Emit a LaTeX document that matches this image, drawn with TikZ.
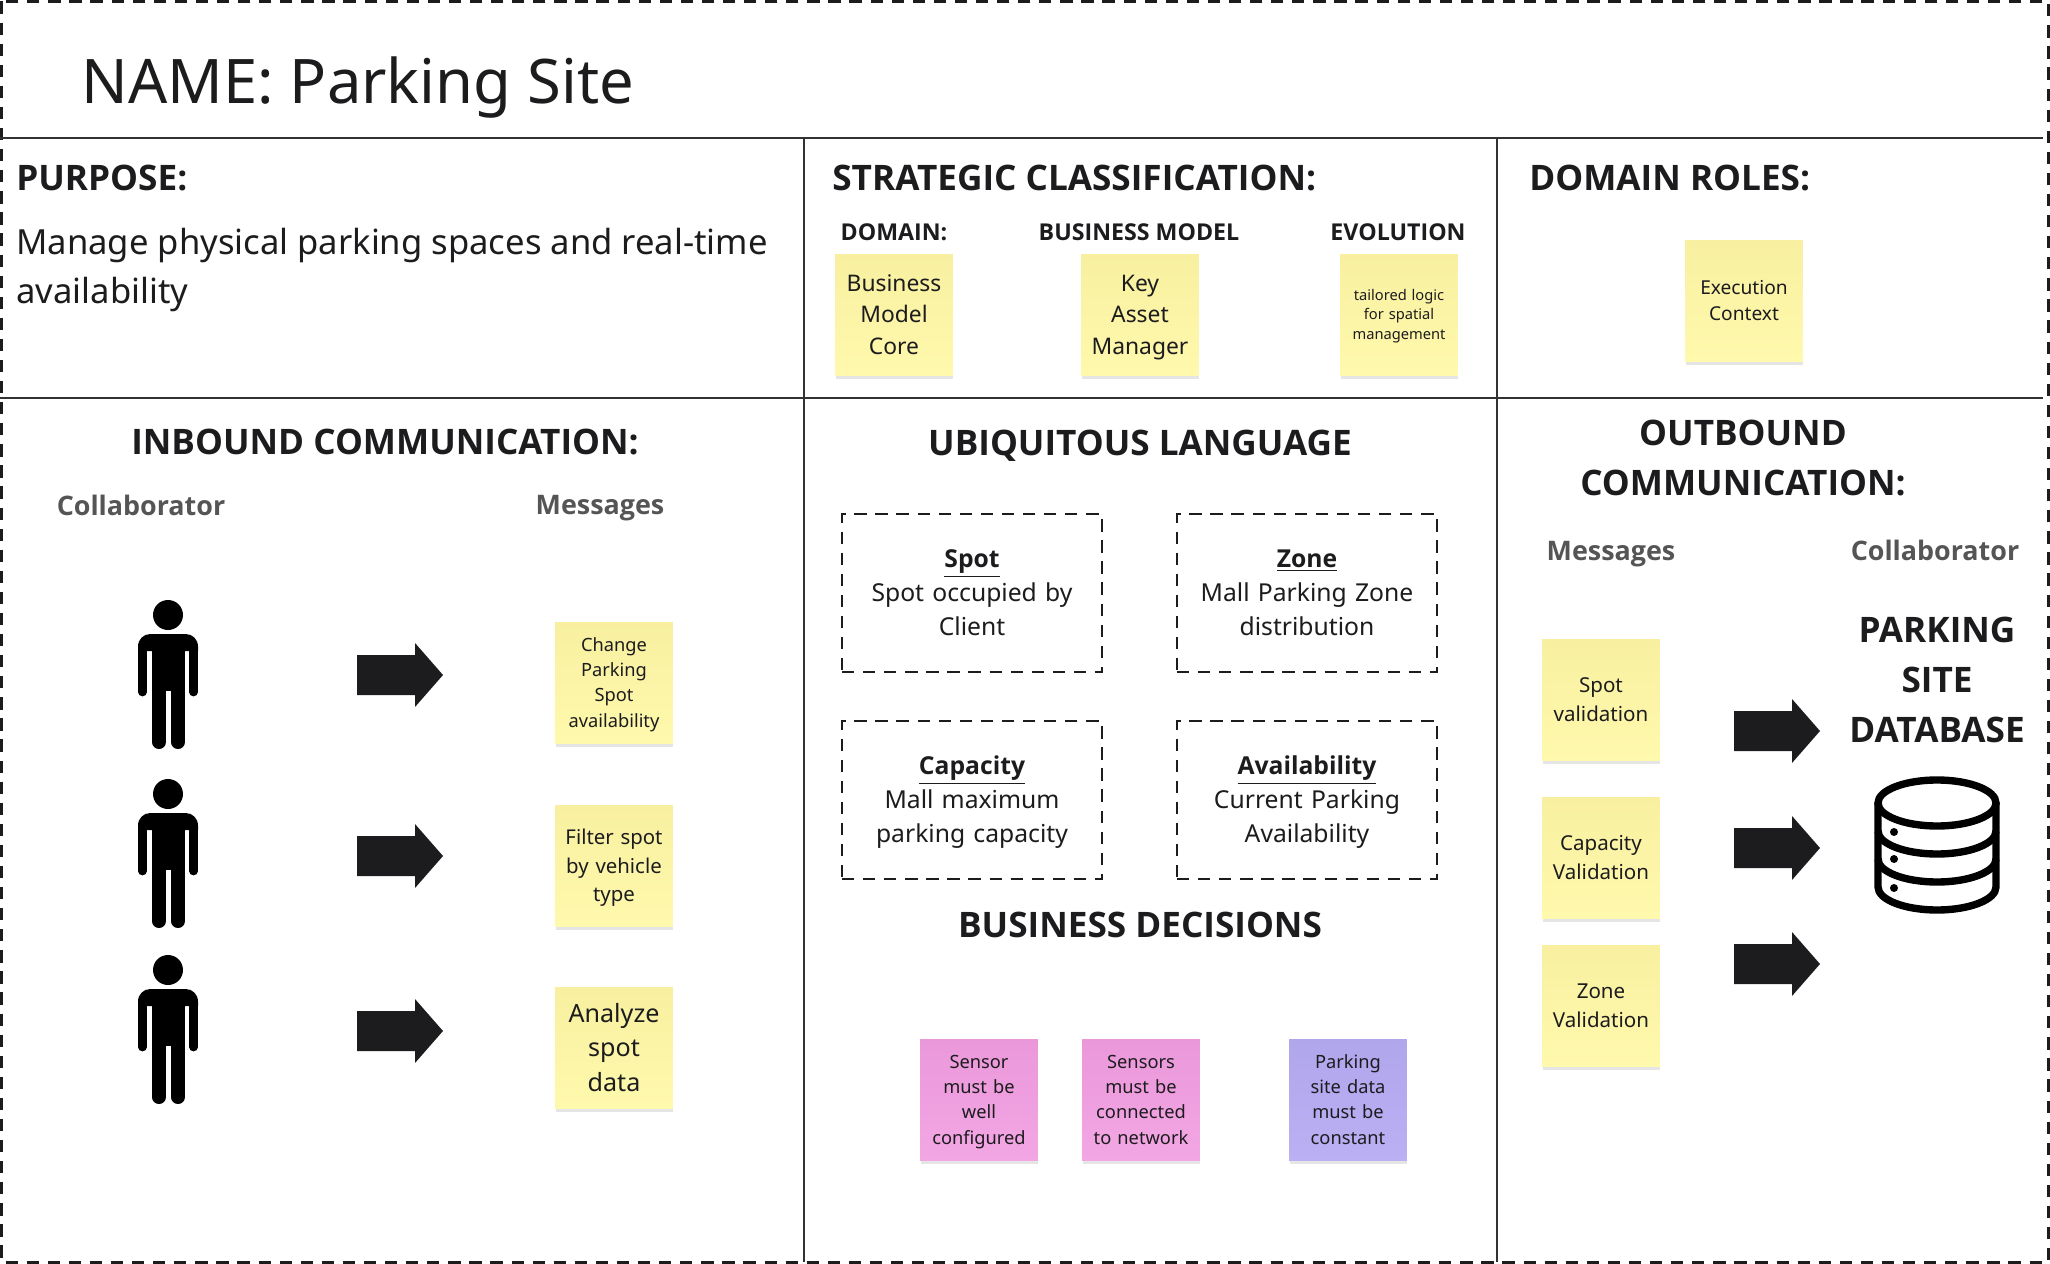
\documentclass[tikz,border=0pt]{standalone}
\usepackage{fontspec}
\setmainfont{Noto Sans}[BoldFont={Open Sans Bold}]
\usepackage{tikz}
\usetikzlibrary{positioning,shadows}
\definecolor{inkblack}{RGB}{28,28,30}
\definecolor{labelgray}{RGB}{85,85,85}
\definecolor{linegray}{RGB}{50,50,52}
\definecolor{noteyellowtop}{RGB}{248,240,160}
\definecolor{noteyellowbot}{RGB}{255,249,173}
\definecolor{notepinktop}{RGB}{234,152,218}
\definecolor{notepinkbot}{RGB}{243,166,228}
\definecolor{notepurpletop}{RGB}{176,166,236}
\definecolor{notepurplebot}{RGB}{188,176,244}
\newcommand{\fsize}[1]{\fontsize{#1}{1.38\dimexpr #1pt\relax}\selectfont}
\tikzset{
    % sticky notes
    stickynote/.style={
        minimum width=66.9pt,
        minimum height=69pt,
        inner sep=0pt,
        align=center,
        text width=66pt,
        text=inkblack,
        execute at begin node={\rule{0pt}{.8\baselineskip}},
        execute at end node=\strut,
        drop shadow={shadow xshift=0.4pt,shadow yshift=-2pt,opacity=0.2}
    },
    yellownote/.style={stickynote,top color=noteyellowtop,bottom color=noteyellowbot},
    pinknote/.style={stickynote,top color=notepinktop,bottom color=notepinkbot},
    purplenote/.style={stickynote,top color=notepurpletop,bottom color=notepurplebot},
    % texts
    headlabel/.style={text=inkblack,align=center,inner sep=0pt,font=\bfseries\fsize{20}},
    subhead/.style={text=inkblack,inner sep=0pt,font=\bfseries\fsize{13.2}},
    graylabel/.style={text=labelgray,inner sep=0pt,font=\bfseries\fsize{15.3}},
    bodytext/.style={text=inkblack,inner sep=0pt,align=left,font=\fsize{19.7}},
    termbox/.style={
        draw=inkblack,
        dash pattern=on 7pt off 5pt,
        line width=1.4pt,
        minimum width=148pt,
        minimum height=90pt,
        inner sep=0pt,
        align=center,
        text width=140pt,
        text=inkblack,
        execute at begin node={\rule{0pt}{.815\baselineskip}},
        execute at end node=\strut,
        font=\fsize{14.05}
    },
    divider/.style={linegray,line width=0.8pt},
    pics/person/.style={
        code={
            \fill[black] (0,-60) circle (15);
            \fill[black] (-30,-24) {[rounded corners=7pt] -- (-30,-41) -- (30,-41)} -- (30,-24) -- cycle;
            \fill[black] (-16,-30) rectangle (17,16);
            \draw[black,line width=5pt,line cap=round] (-25.6,-30) -- (-25.6,17);
            \draw[black,line width=5pt,line cap=round] (25.6,-30) -- (25.6,17);
            \draw[black,line width=8pt,line cap=round] (-9,10) -- (-9,67);
            \draw[black,line width=8pt,line cap=round] (10,10) -- (10,67);
        }
    },
    pics/blockarrow/.style={
        code={
            \fill[inkblack] (0,-20) -- (58,-20) -- (58,-32) -- (86,0) -- (58,32) -- (58,20) -- (0,20) -- cycle;
        }
    }
}

\begin{document}
\begin{tikzpicture}[x=0.02cm,y=-0.02cm]
    \useasboundingbox (0,0) rectangle (2050,1264);
    \fill[white] (0,0) rectangle (2050,1264);
    \draw[inkblack,line width=1.4pt,dash pattern=on 7pt off 5pt] (1.5,1.5) rectangle (2048.5,1262.5);
    \draw[divider] (0,138) -- (2043,138);
    \draw[divider] (0,398) -- (2043,398);
    \draw[divider] (804,138) -- (804,1262);
    \draw[divider] (1497,138) -- (1497,1262);

    \node[anchor=west,text=inkblack,inner sep=0pt,font=\fsize{35}] (title) at (81,88) {NAME: Parking Site};

    % top row
    \node[headlabel,anchor=west] (purpose) at (16,178) {PURPOSE:};
    \node[bodytext,anchor=west] (purposetxt) at (16,270) {Manage physical parking spaces and real-time\\[1pt]availability};
    \node[headlabel,anchor=west] (strategic) at (832,178) {STRATEGIC CLASSIFICATION:};
    \node[headlabel,anchor=west] (roles) at (1529,178) {DOMAIN ROLES:};
    \node[subhead] (domain) at (894,232) {DOMAIN:};
    \node[subhead] (bizmodel) at (1139,232) {BUSINESS MODEL};
    \node[subhead] (evolution) at (1398,232) {EVOLUTION};
    \node[yellownote,font=\fsize{13}] (n1) at (894,315) {Business\\Model\\Core};
    \node[yellownote,font=\fsize{13}] (n2) at (1140,315) {Key\\Asset\\Manager};
    \node[yellownote,font=\fontsize{8.35}{11.1}\selectfont] (n3) at (1399,315) {tailored logic\\for spatial\\management};
    \node[yellownote,font=\fsize{10.9}] (n4) at (1744,301) {Execution\\Context};

    % inbound
    \node[headlabel] (inbound) at (385,442) {INBOUND COMMUNICATION:};
    \node[graylabel] (collabin) at (141,505) {Collaborator};
    \node[graylabel] (msgin) at (600,508) {Messages};
    \pic at (168,675) {person};
    \pic at (168,854) {person};
    \pic at (168,1030) {person};
    \pic at (357,675) {blockarrow};
    \pic at (357,856) {blockarrow};
    \pic at (357,1031) {blockarrow};
    \node[yellownote,font=\fsize{10.4}] (in1) at (614,683) {Change\\Parking\\Spot\\availability};
    \node[yellownote,font=\fsize{11.6}] (in2) at (614,866) {Filter spot\\by vehicle\\type};
    \node[yellownote,font=\fsize{14.3}] (in3) at (614,1048) {Analyze\\spot\\data};

    % language
    \node[headlabel] (ubiq) at (1140,446) {UBIQUITOUS LANGUAGE};
    \node[termbox] (spot) at (972,593) {\textbf{\underline{Spot}}\\Spot occupied by\\Client};
    \node[termbox] (zone) at (1307,593) {\textbf{\underline{Zone}}\\Mall Parking Zone\\distribution};
    \node[termbox] (capacity) at (972,800) {\textbf{\underline{Capacity}}\\Mall maximum\\parking capacity};
    \node[termbox] (avail) at (1307,800) {\textbf{\underline{Availability}}\\Current Parking\\Availability};
    \node[headlabel] (decisions) at (1140,925) {BUSINESS DECISIONS};
    \node[pinknote,font=\fsize{10.4}] (d1) at (979,1100) {Sensor\\must be\\well\\configured};
    \node[pinknote,font=\fsize{10.4}] (d2) at (1141,1100) {Sensors\\must be\\connected\\to network};
    \node[purplenote,font=\fsize{10.4}] (d3) at (1348,1100) {Parking\\site data\\must be\\constant};

    % outbound
    \node[headlabel] (outbound) at (1743,458) {OUTBOUND\\[1pt]COMMUNICATION:};
    \node[graylabel] (msgout) at (1611,554) {Messages};
    \node[graylabel] (collabout) at (1935,550) {Collaborator};
    \node[yellownote,font=\fsize{11.7}] (out1) at (1601,700) {Spot\\validation};
    \node[yellownote,font=\fsize{11.7}] (out2) at (1601,858) {Capacity\\Validation};
    \node[yellownote,font=\fsize{11.7}] (out3) at (1601,1006) {Zone\\Validation};
    \pic at (1734,731) {blockarrow};
    \pic at (1734,848) {blockarrow};
    \pic at (1734,964) {blockarrow};
    \node[headlabel] (dbname) at (1937,680) {PARKING\\[1pt]SITE\\[1pt]DATABASE};

    % database icon
    \begin{scope}[line width=4.2pt,black]
        \draw (1937,803) ellipse (59 and 23);
        \draw (1878,803) -- (1878,887) arc[start angle=180,end angle=360,x radius=59,y radius=-23] -- (1996,803);
        \draw (1878,831) arc[start angle=180,end angle=360,x radius=59,y radius=-23];
        \draw (1878,859) arc[start angle=180,end angle=360,x radius=59,y radius=-23];
    \end{scope}
    \fill[black] (1894,832) circle (4) (1894,859) circle (4) (1894,888) circle (4);
\end{tikzpicture}
\end{document}
